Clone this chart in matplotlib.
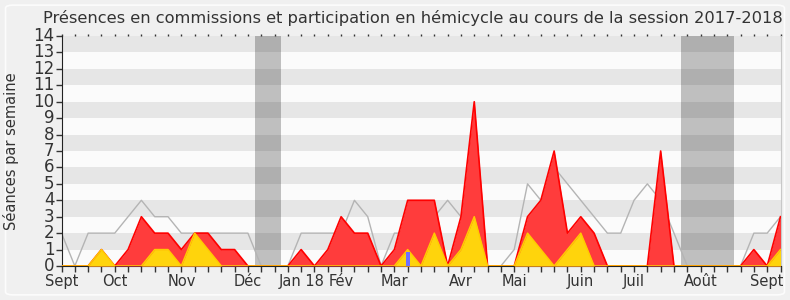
import numpy as np
import matplotlib
matplotlib.use("Agg")
import matplotlib.pyplot as plt
from matplotlib.patches import FancyBboxPatch

# weekly values, session 2017-2018 (week index 0 .. 54)
weeks = np.arange(55)
median_presence = [2, 0, 2, 2, 2, 3, 4, 3, 3, 2, 2, 2, 2, 2, 2, 0, 0, 0, 2, 2,
                   2, 2, 4, 3, 0, 2, 2, 3, 3, 4, 3, 2, 0, 0, 1, 5, 4, 6, 5, 4,
                   3, 2, 2, 4, 5, 4, 2, 0, 0, 0, 0, 0, 2, 2, 3]
commission = [0, 0, 0, 1, 0, 1, 3, 2, 2, 1, 2, 2, 1, 1, 0, 0, 0, 0, 1, 0,
              1, 3, 2, 2, 0, 1, 4, 4, 4, 0, 3, 10, 0, 0, 0, 3, 4, 7, 2, 3,
              2, 0, 0, 0, 0, 7, 0, 0, 0, 0, 0, 0, 1, 0, 3]
hemicycle = [0, 0, 0, 1, 0, 0, 0, 1, 1, 0, 2, 1, 0, 0, 0, 0, 0, 0, 0, 0,
             0, 0, 0, 0, 0, 0, 1, 0, 2, 0, 1, 3, 0, 0, 0, 2, 1, 0, 1, 2,
             0, 0, 0, 0, 0, 0, 0, 0, 0, 0, 0, 0, 0, 0, 1]
questions_weeks = [26]
questions = [0.85]
vacances = [(15, 16), (47, 50)]
month_weeks = [0, 4, 9, 14, 18, 21, 25, 30, 34, 39, 43, 48, 53]
month_labels = ["Sept", "Oct", "Nov", "Déc", "Jan 18", "Fév", "Mar", "Avr",
                "Mai", "Juin", "Juil", "Août", "Sept"]

plt.rcParams["font.family"] = ["DejaVu Sans"]

fig = plt.figure(figsize=(7.9, 3.0), dpi=100, facecolor="#f0f0f0")
fig.patches.append(FancyBboxPatch((0.007, 0.017), 0.986, 0.966,
                                  boxstyle="round,pad=0,rounding_size=0.01",
                                  transform=fig.transFigure, facecolor="none",
                                  edgecolor="#fcfcfc", lw=1.2, zorder=-1))
ax = fig.add_axes([61.5 / 790, 34 / 300, 719 / 790, 230 / 300])
ax.set_facecolor("#fbfbfb")

# horizontal stripes
for y in range(1, 14, 2):
    ax.axhspan(y, y + 1, color="#e6e6e6", lw=0, zorder=0)

# vacation weeks
for a, b in vacances:
    ax.axvspan(a - 0.5, b + 0.5, color="black", alpha=0.24, lw=0, zorder=1)

ax.plot(weeks, median_presence, color="#b4b4b4", lw=1, zorder=2)
ax.fill_between(weeks, 0, commission, color="#ff3c3c", lw=0, zorder=3)
ax.plot(weeks, commission, color="#ff0000", lw=1.2, zorder=3)
ax.fill_between(weeks, 0, hemicycle, color="#ffd40c", lw=0, zorder=4)
ax.plot(weeks, hemicycle, color="#ffcc00", lw=1.1, zorder=4)
ax.bar(questions_weeks, questions, width=0.3, color="#6f6fff", zorder=5)

ax.set_xlim(0, 54)
ax.set_ylim(0, 14)
ax.set_yticks(range(15))
ax.set_xticks(weeks)
labels = [""] * len(weeks)
for w, m in zip(month_weeks, month_labels):
    labels[w] = m
ax.set_xticklabels(labels)
ax.tick_params(axis="x", direction="out", length=4, width=1, color="#333333",
               labelsize=10.5, labelcolor="#333333", pad=1.5, top=True)
ax.tick_params(axis="y", direction="out", length=4, width=1, color="#333333",
               labelsize=12, labelcolor="#333333", pad=1)
for t in ax.yaxis.get_major_ticks():
    t.label1.set_va("center")
for t in ax.xaxis.get_major_ticks():
    t.tick2line.set_markersize(1.2)
    t.tick2line.set_color("#222222")

ax.spines["top"].set_visible(False)
ax.spines["right"].set_color("#c8c8c8")
ax.spines["left"].set_color("#222222")
ax.spines["bottom"].set_color("#222222")

ax.set_ylabel("Séances par semaine", fontsize=10.5, color="#333333")
ax.yaxis.set_label_coords(-0.059, 0.5)
fig.text(413 / 790, 0.965, "Présences en commissions et participation en hémicycle "
         "au cours de la session 2017-2018", ha="center", va="top",
         fontsize=11.7, color="#333333")

fig.savefig("out.png", dpi=100, facecolor=fig.get_facecolor())
